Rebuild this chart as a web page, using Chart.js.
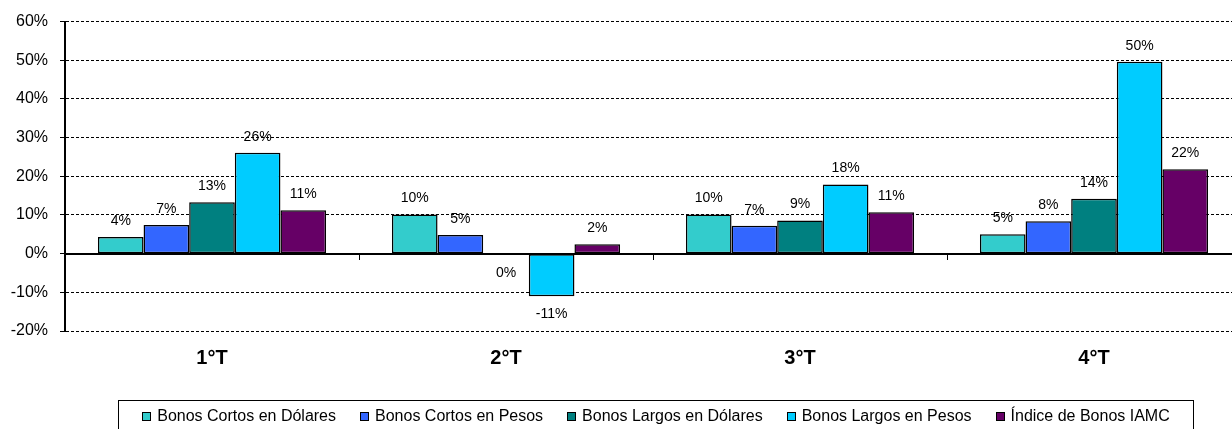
<!DOCTYPE html>
<html>
<head>
<meta charset="utf-8">
<script src="https://cdn.jsdelivr.net/npm/chart.js@4.4.1/dist/chart.umd.min.js"></script>
<style>
  html, body { margin: 0; padding: 0; background: #fff; overflow: hidden; }
  #wrap { width: 1242px; height: 429px; }
</style>
</head>
<body>
<div id="wrap"><canvas id="grafico"></canvas></div>
<script>
// datos (rendimiento trimestral, %)
const trimestres = ['1°T', '2°T', '3°T', '4°T'];
const cortosDolares = [4.3, 10.1, 10.1, 5.0];
const cortosPesos = [7.4, 4.8, 7.2, 8.4];
const largosDolares = [13.3, -0.3, 8.6, 14.2];
const largosPesos = [26.1, -11.0, 17.9, 49.6];
const indiceIAMC = [11.2, 2.45, 10.7, 21.8];

const nombresSeries = ['Bonos Cortos en Dólares', 'Bonos Cortos en Pesos', 'Bonos Largos en Dólares', 'Bonos Largos en Pesos', 'Índice de Bonos IAMC'];
const coloresSeries = ['#33CCCC', '#3366FF', '#008080', '#00CCFF', '#660066'];
const valoresSeries = [cortosDolares, cortosPesos, largosDolares, largosPesos, indiceIAMC];

const ejeMin = -20;
const ejeMax = 60;
const ejePaso = 10;

const FUENTE = '"Liberation Sans", Arial, sans-serif';
Chart.defaults.font.family = FUENTE;
Chart.defaults.color = '#000';

// etiquetas de valor encima / debajo de cada barra
const etiquetas = {
  id: 'etiquetas',
  afterDatasetsDraw(chart) {
    const ctx = chart.ctx;
    ctx.save();
    ctx.font = '14px ' + FUENTE;
    ctx.fillStyle = '#000';
    ctx.textAlign = 'center';
    ctx.textBaseline = 'middle';
    chart.data.datasets.forEach((ds, i) => {
      chart.getDatasetMeta(i).data.forEach((bar, j) => {
        const v = ds.data[j];
        const y = v >= 0 ? bar.y - 16 : bar.y + 18;
        ctx.fillText(Math.round(v) + '%', bar.x, y);
      });
    });
    ctx.restore();
  }
};

// leyenda con recuadro, como en Excel
const leyenda = {
  id: 'leyenda',
  afterDraw(chart) {
    const ctx = chart.ctx;
    const area = chart.chartArea;
    ctx.save();
    ctx.font = '16px ' + FUENTE;
    const cuadro = 9, hueco = 6, sep = 24, margen = 24;
    const anchos = chart.data.datasets.map(ds => ctx.measureText(ds.label).width);
    const total = anchos.reduce((a, w) => a + cuadro + hueco + w, 0) + sep * (anchos.length - 1);
    const centro = (area.left + area.right) / 2 + 3;
    const top = area.bottom + 69;
    const yc = top + 16.5;
    ctx.strokeStyle = '#000';
    ctx.lineWidth = 1;
    ctx.strokeRect(Math.round(centro - total / 2 - margen) + 0.5, top + 0.5, Math.round(total + 2 * margen), 34);
    let x = centro - total / 2;
    ctx.textBaseline = 'middle';
    ctx.textAlign = 'left';
    chart.data.datasets.forEach((ds, i) => {
      ctx.fillStyle = ds.backgroundColor;
      ctx.fillRect(Math.round(x), Math.round(yc - 4.5), cuadro, cuadro);
      ctx.strokeStyle = '#000';
      ctx.strokeRect(Math.round(x) + 0.5, Math.round(yc - 4.5) + 0.5, cuadro - 1, cuadro - 1);
      ctx.fillStyle = '#000';
      ctx.fillText(ds.label, x + cuadro + hueco, yc);
      x += cuadro + hueco + anchos[i] + sep;
    });
    ctx.restore();
  }
};

new Chart(document.getElementById('grafico'), {
  type: 'bar',
  data: {
    labels: trimestres,
    datasets: valoresSeries.map((vals, i) => ({
      label: nombresSeries[i],
      data: vals,
      backgroundColor: coloresSeries[i],
      borderColor: '#000',
      borderWidth: 1.5,
      borderSkipped: false,
      categoryPercentage: 0.776,
      barPercentage: 1.0
    }))
  },
  options: {
    responsive: true,
    maintainAspectRatio: false,
    animation: false,
    layout: { padding: { top: 18, left: 0, right: 1, bottom: 0 } },
    plugins: {
      legend: { display: false },
      tooltip: { enabled: false }
    },
    scales: {
      x: {
        type: 'category',
        position: { y: 0 },
        offset: true,
        ticks: { display: false },
        grid: { offset: true, drawOnChartArea: false, drawTicks: true, tickLength: 5, tickColor: '#000', tickWidth: 1 },
        border: { display: true, color: '#000', width: 2, z: 1 }
      },
      x2: {
        type: 'category',
        axis: 'x',
        position: 'bottom',
        offset: true,
        grid: { display: false, drawTicks: false },
        border: { display: false },
        ticks: { font: { size: 20, weight: 'bold' }, color: '#000', padding: 15, maxRotation: 0 },
        afterFit(s) { s.height = 98; }
      },
      y: {
        min: ejeMin,
        max: ejeMax,
        ticks: {
          stepSize: ejePaso,
          font: { size: 16 },
          color: '#000',
          padding: 12,
          callback: v => v + '%'
        },
        grid: {
          color: ctx => ctx.tick && ctx.tick.value === 0 ? 'rgba(0,0,0,0)' : '#000',
          lineWidth: 1,
          tickLength: 5,
          tickColor: '#000',
          tickBorderDash: []
        },
        border: { display: true, color: '#000', width: 2, dash: [3, 2] },
        afterFit(s) { s.width = 65; }
      }
    }
  },
  plugins: [etiquetas, leyenda]
});
</script>
</body>
</html>
